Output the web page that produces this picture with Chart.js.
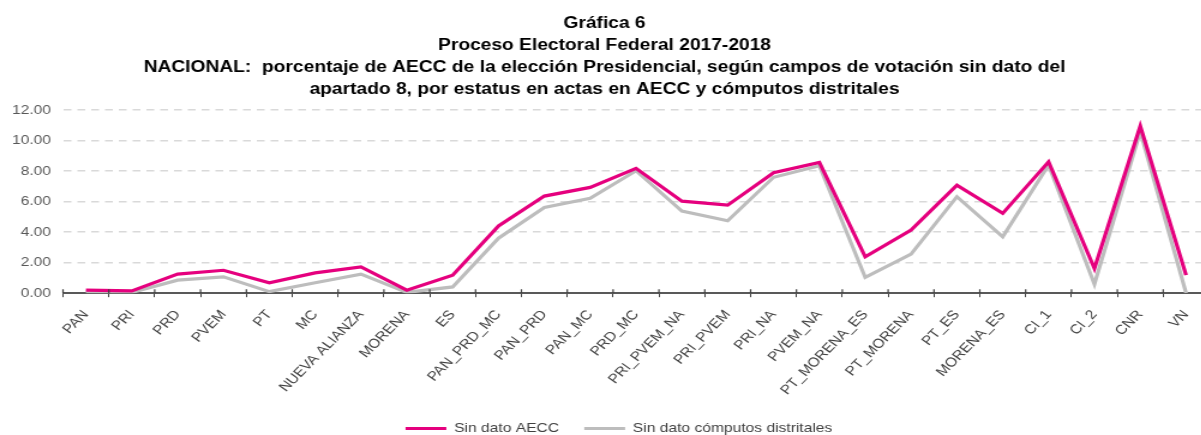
<!DOCTYPE html>
<html>
<head>
<meta charset="utf-8">
<script src="https://cdn.jsdelivr.net/npm/chart.js@4.4.1/dist/chart.umd.min.js"></script>
<style>
  html, body { margin: 0; padding: 0; background: #fff; overflow: hidden; }
  /* la imagen original está estirada en horizontal (~1.2) */
  #wrap { width: 1025px; height: 445px; transform: scaleX(1.2); transform-origin: 0 0; }
</style>
</head>
<body>
<div id="wrap"><canvas id="grafica6"></canvas></div>
<script>
// categorías del eje X
const categorias = ['PAN', 'PRI', 'PRD', 'PVEM', 'PT', 'MC', 'NUEVA ALIANZA', 'MORENA', 'ES',
    'PAN_PRD_MC', 'PAN_PRD', 'PAN_MC', 'PRD_MC', 'PRI_PVEM_NA', 'PRI_PVEM', 'PRI_NA', 'PVEM_NA',
    'PT_MORENA_ES', 'PT_MORENA', 'PT_ES', 'MORENA_ES', 'CI_1', 'CI_2', 'CNR', 'VN'];

// valores (porcentaje)
const sinDatoAECC = [0.20, 0.15, 1.25, 1.50, 0.68, 1.33, 1.72, 0.20, 1.18,
    4.40, 6.36, 6.93, 8.18, 6.03, 5.77, 7.89, 8.57,
    2.38, 4.13, 7.08, 5.23, 8.61, 1.62, 10.95, 1.18];
const sinDatoComputos = [0.08, 0.05, 0.85, 1.07, 0.10, 0.68, 1.25, 0.05, 0.41,
    3.60, 5.62, 6.21, 8.02, 5.38, 4.74, 7.59, 8.35,
    1.03, 2.56, 6.32, 3.69, 8.40, 0.59, 10.58, 0.00];

const titulo = [
    'Gráfica 6',
    'Proceso Electoral Federal 2017-2018',
    'NACIONAL:  porcentaje de AECC de la elección Presidencial, según campos de votación sin dato del',
    'apartado 8, por estatus en actas en AECC y cómputos distritales'
];
const ticksY = [0, 2, 4, 6, 8, 10, 12];

const fuente = 'Arial, "Liberation Sans", sans-serif';

// marcas del eje X que cruzan la línea (también por encima)
const marcasEjeX = {
    id: 'marcasEjeX',
    afterLayout(chart) {
        // la leyenda del original queda un poco más a la derecha
        chart.legend.left += 12;
        chart.legend.right += 12;
    },
    afterDatasetsDraw(chart) {
        const x = chart.scales.x;
        const c = chart.ctx;
        const n = chart.data.labels.length;
        const paso = (x.right - x.left) / n;
        c.save();
        c.strokeStyle = '#404040';
        c.lineWidth = 1.2;
        c.beginPath();
        for (let i = 0; i <= n; i++) {
            const px = x.left + i * paso;
            c.moveTo(px, x.top - 4);
            c.lineTo(px, x.top);
        }
        c.stroke();
        c.restore();
    }
};

const ctx = document.getElementById('grafica6').getContext('2d');
new Chart(ctx, {
    type: 'line',
    data: {
        labels: categorias,
        datasets: [{
            label: 'Sin dato AECC',
            data: sinDatoAECC,
            borderColor: '#E5007E',
            backgroundColor: '#E5007E',
            borderWidth: 3.2,
            pointRadius: 0,
            tension: 0
        }, {
            label: 'Sin dato cómputos distritales',
            data: sinDatoComputos,
            borderColor: '#BDBDBD',
            backgroundColor: '#BDBDBD',
            borderWidth: 3.2,
            pointRadius: 0,
            tension: 0
        }]
    },
    options: {
        responsive: true,
        maintainAspectRatio: false,
        animation: false,
        layout: { padding: { left: 0, right: 17.5, top: 13, bottom: 0 } },
        scales: {
            x: {
                offset: true,
                afterFit: scale => { scale.height -= 7; },
                grid: {
                    display: true,
                    drawOnChartArea: false,
                    offset: true,
                    color: '#404040',
                    tickLength: 4
                },
                border: { display: true, color: '#595959', width: 2 },
                ticks: {
                    autoSkip: false,
                    maxRotation: 50,
                    minRotation: 50,
                    padding: 10,
                    color: '#404040',
                    font: { family: fuente, size: 13 }
                }
            },
            y: {
                min: 0,
                max: 12,
                afterBuildTicks: scale => {
                    scale.ticks = ticksY.map(v => ({ value: v }));
                },
                afterFit: scale => { scale.width = 52.5; },
                grid: {
                    color: '#D9D9D9',
                    lineWidth: 1.5,
                    drawTicks: false
                },
                border: { display: false, dash: [6.5, 5] },
                ticks: {
                    padding: 10,
                    color: '#595959',
                    font: { family: fuente, size: 13 },
                    callback: v => Number(v).toFixed(2)
                }
            }
        },
        plugins: {
            title: {
                display: true,
                text: titulo,
                color: '#000',
                font: { family: fuente, size: 16, weight: 'bold', lineHeight: 1.375 },
                padding: { top: 0, bottom: 9 }
            },
            legend: {
                position: 'bottom',
                labels: {
                    usePointStyle: true,
                    pointStyle: 'line',
                    pointStyleWidth: 34,
                    color: '#404040',
                    padding: 21,
                    font: { family: fuente, size: 13 }
                }
            },
            tooltip: { enabled: false }
        }
    },
    plugins: [marcasEjeX]
});
</script>
</body>
</html>
